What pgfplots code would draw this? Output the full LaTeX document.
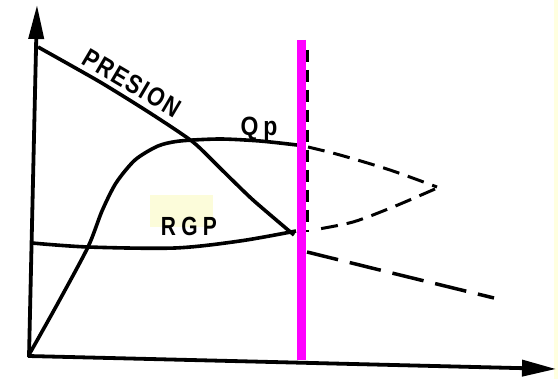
\documentclass[border=0pt]{standalone}
\usepackage{pgfplots}
\pgfplotsset{compat=1.18}
\usetikzlibrary{arrows.meta}
\usepackage{fontspec}
\setmainfont{Liberation Sans}
\definecolor{pale}{HTML}{FFFFE0}
\definecolor{rgpbox}{HTML}{FCFCDA}
\definecolor{mag}{HTML}{FF00FF}
\begin{document}
\begin{tikzpicture}
\begin{axis}[scale only axis, width=558pt, height=379pt,
  xmin=0, xmax=558, ymin=0, ymax=379, y dir=reverse, hide axis, clip=false]
\fill[white] (axis cs:0,0) rectangle (axis cs:558,379);
\fill[pale] (axis cs:554,0) rectangle (axis cs:558,379);
\fill[rgpbox] (axis cs:150,195) rectangle (axis cs:213,227);
% axes
\addplot[black, line width=3.8pt, -{Triangle[length=34pt,width=15pt]}] coordinates {(29,357) (37,5)};
\addplot[black, line width=3.8pt, -{Triangle[length=34pt,width=16pt]}] coordinates {(28,356) (556,369)};
% PRESION
\addplot[black, line width=3.6pt, smooth, tension=0.4] coordinates {
(38,47) (100,82) (150,113) (193,142) (222,170) (253,200) (294,235)};
% Qp
\addplot[black, line width=3.6pt, smooth, tension=0.45] coordinates {
(30,353) (58,303) (88,247) (102,211) (116,183) (135,160) (158,146) (180,141) (220,139) (260,141) (297,145)};
% RGP
\addplot[black, line width=3.6pt, smooth, tension=0.5] coordinates {
(32,243) (88,247) (175,248) (240,241) (296,231)};
% dashed continuations
\addplot[black, line width=3pt, dash pattern=on 12pt off 8pt] coordinates {(307.5,50) (307.5,232)};
\addplot[black, line width=3pt, smooth, dash pattern=on 17pt off 9pt] coordinates {
(308,147) (340,155) (390,170) (437,187)};
\addplot[black, line width=3pt, smooth, dash pattern=on 17pt off 9pt] coordinates {
(435,189) (393,207) (353,222) (313,230)};
\addplot[black, line width=3.5pt, dash pattern=on 32pt off 12pt] coordinates {
(307,252) (400,275) (494,298)};
% magenta line
\addplot[mag, line width=9pt] coordinates {(301.5,40) (301.5,360)};
% labels
\node[rotate=-30.5, yscale=1.2, font=\bfseries\fontsize{22}{22}\selectfont\addfontfeatures{LetterSpace=8}] at (axis cs:132,83) {PRESION};
\node[yscale=1.25, font=\bfseries\fontsize{21}{21}\selectfont\addfontfeatures{LetterSpace=25}] at (axis cs:189,236) [anchor=base] {RGP};
\node[yscale=1.15, font=\bfseries\fontsize{23}{23}\selectfont] at (axis cs:259,136) [anchor=base] {Q\hspace{5pt}p};
\end{axis}
\end{tikzpicture}
\end{document}
